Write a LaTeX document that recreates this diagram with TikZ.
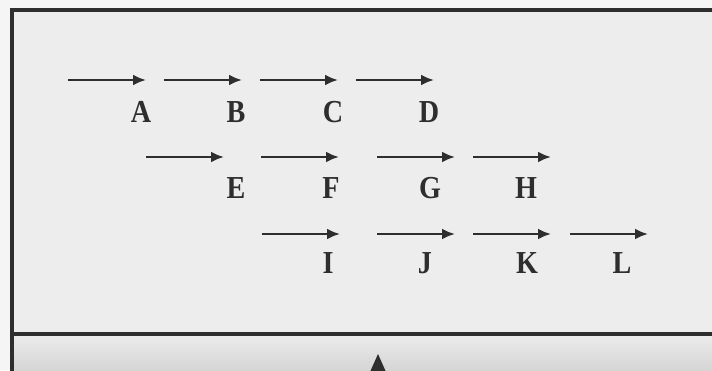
\documentclass[tikz,border=0pt]{standalone}
\usepackage{fontspec}
\setmainfont{Liberation Serif}
\usepackage{xcolor}
\usetikzlibrary{arrows.meta}

\definecolor{paper}{HTML}{EDEDED}
\definecolor{ink}{HTML}{2E2E2E}

\tikzset{
  mv/.style={-{Latex[length=13pt,width=11pt]}, line width=2.4pt, ink},
  letter/.style={font=\bfseries\fontsize{32}{32}\selectfont, text=ink, inner sep=0pt, xscale=0.88, transform shape},
}

\begin{document}
\begin{tikzpicture}[x=1pt,y=-1pt]
\useasboundingbox (0,0) rectangle (712,370);
\clip (0,0) rectangle (712,370);

% backgrounds
\fill[white!96!black] (0,0) rectangle (712,370);
\fill[paper] (12,10) rectangle (712,333);
\shade[top color=paper, bottom color=black!17] (12,333) rectangle (712,372);

% frame
\draw[ink, line width=3.5pt] (12,372) -- (12,10) -- (714,10);
\draw[ink, line width=3.5pt] (12,334) -- (714,334);

% pointer
\fill[ink] (378,354) -- (386,372) -- (370,372) -- cycle;

% moves, first row
\foreach \n/\x in {A/68, B/164, C/260, D/356}{
  \coordinate (\n-s) at (\x,80);
  \draw[mv] (\n-s) -- +(78,0);
}
% second row
\foreach \n/\x in {E/146, F/261, G/377, H/473}{
  \coordinate (\n-s) at (\x,157);
  \draw[mv] (\n-s) -- +(78,0);
}
% third row
\foreach \n/\x in {I/262, J/377, K/473, L/570}{
  \coordinate (\n-s) at (\x,234);
  \draw[mv] (\n-s) -- +(78,0);
}

% labels
\foreach \n/\x/\y in {A/141/112, B/236/112, C/333/112, D/429/112,
                      E/236/188, F/331/188, G/430/188, H/526/188,
                      I/328/263, J/425/263, K/527/263, L/622/263}{
  \node[letter] (l\n) at (\x,\y) {\n};
}
\end{tikzpicture}
\end{document}
